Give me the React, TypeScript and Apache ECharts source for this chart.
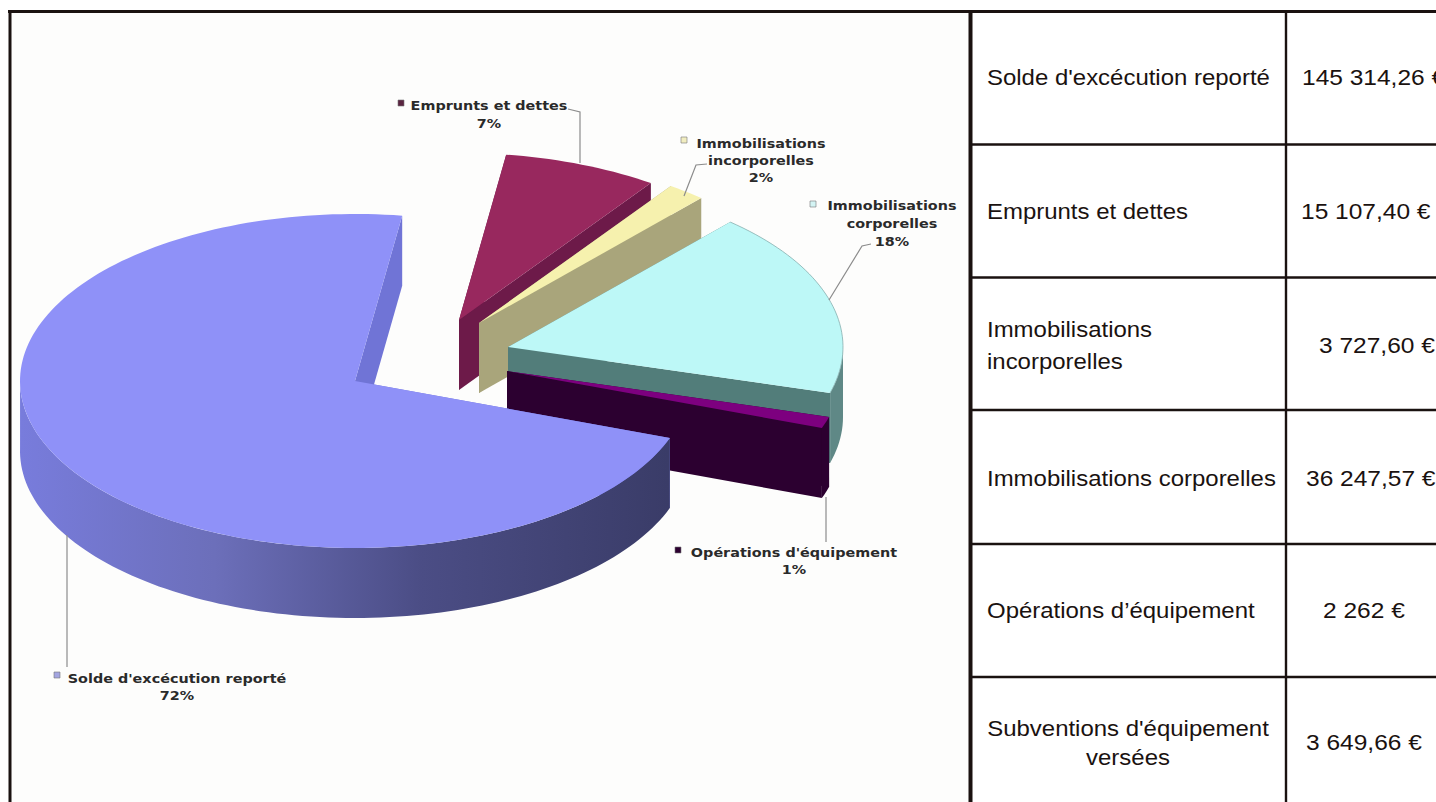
import React, { useEffect, useRef } from "react";
import * as echarts from "echarts";

const pieCategories = ["Solde d'excécution reporté", "Emprunts et dettes", "Immobilisations incorporelles", "Immobilisations corporelles", "Opérations d'équipement"];
const pieValues = [145314.26, 15107.4, 3727.6, 36247.57, 2262];
const tableLabels = [["Solde d'excécution reporté"], ["Emprunts et dettes"], ["Immobilisations", "incorporelles"], ["Immobilisations corporelles"], ["Opérations d’équipement"], ["Subventions d'équipement", "versées"]];
const tableValues = ["145 314,26 €", "15 107,40 €", "3 727,60 €", "36 247,57 €", "2 262 €", "3 649,66 €"];

const W = 1436, H = 802;
const RX = 335, RY = 167, DEPTH = 70, START = 81.9;
const paintOrder = [1, 2, 3, 4, 0];
const apex = [[355, 381], [459, 320], [479, 323], [508, 347], [507, 371]];
const topColor = ["#8f91f8", "#98285e", "#f6f1ae", "#bdf8f7", "#7d007f"];
const cutColor = ["#7074d6", "#6d1a49", "#a9a57b", "#527d7a", "#2c0030"];
const wallColor = ["#5a5da0", "#6d1a49", "#a9a57b", "#5f8886", "#2c0030"];
const keyColor = ["#a3a5e0", "#5a2440", "#f1edc0", "#d4f4f4", "#2c0030"];
const labelLines = [["Solde d'excécution reporté", "72%"], ["Emprunts et dettes", "7%"], ["Immobilisations", "incorporelles", "2%"], ["Immobilisations", "corporelles", "18%"], ["Opérations d'équipement", "1%"]];
const labelAt = [[177, 678, 17], [489, 105, 18], [761, 143, 17], [892, 205, 18], [794, 552, 17]];
const keyAt = [[57, 675], [401, 103], [684, 140], [813, 204], [678, 550]];
const leaders = [
  [[67, 535], [67, 667]],
  [[568, 109], [580, 112], [580, 163]],
  [[707, 164], [696, 165], [684, 196]],
  [[871, 244], [862, 246], [829, 300]],
  [[826, 497], [826, 542]],
];
const rowLines = [11, 144.5, 277.5, 410, 544, 677];
const rowTextY = [[77], [211], [329, 361], [478], [610], [728, 757]];
const rowTextX = [987, 987, 987, 987, 987, 1128];
const valueX = [1302, 1301, 1319, 1306, 1323, 1306];
const valueY = [77, 211, 345, 478, 610, 742];

const total = pieValues.reduce((a, b) => a + b, 0);
function sliceAngles(i: number) {
  let a = START;
  for (let k = 1; k <= 4; k++) {
    const span = (pieValues[k] / total) * 360;
    if (k === i) return [a, a - span];
    a -= span;
  }
  return [a, a - (pieValues[0] / total) * 360];
}
function arc(cx: number, cy: number, a0: number, a1: number, dy = 0) {
  const pts: number[][] = [];
  const n = Math.max(2, Math.ceil(Math.abs(a0 - a1) / 1.5));
  for (let k = 0; k <= n; k++) {
    const t = ((a0 + ((a1 - a0) * k) / n) * Math.PI) / 180;
    pts.push([cx + RX * Math.cos(t), cy - RY * Math.sin(t) + dy]);
  }
  return pts;
}
const poly = (points: number[][], fill: any, z2: number) => ({ type: "polygon", z2, shape: { points }, style: { fill, stroke: "none" }, silent: true });

function renderSlice(params: any) {
  const i = paintOrder[params.dataIndex];
  const [cx, cy] = apex[i];
  const [a0, a1] = sliceAngles(i);
  const base = params.dataIndex * 10;
  const kids: any[] = [];
  const p0 = arc(cx, cy, a0, a0)[0];
  const p1 = arc(cx, cy, a1, a1)[0];
  kids.push(poly([[cx, cy], p0, [p0[0], p0[1] + DEPTH], [cx, cy + DEPTH]], cutColor[i], base + 1));
  kids.push(poly([[cx, cy], p1, [p1[0], p1[1] + DEPTH], [cx, cy + DEPTH]], cutColor[i], base + 2));
  const front = [] as number[];
  for (let t = Math.floor(a0); t >= a1; t -= 1) {
    if (Math.sin((t * Math.PI) / 180) <= 0.001) front.push(t);
  }
  if (front.length) {
    const w0 = front[0];
    const w1 = Math.max(a1, front[front.length - 1] - 1);
    const topEdge = arc(cx, cy, w0, w1);
    const botEdge = arc(cx, cy, w1, w0, DEPTH);
    const fill = i === 0
      ? new (echarts as any).graphic.LinearGradient(20, 0, 668, 0, [
          { offset: 0, color: "#787cdc" },
          { offset: 0.3, color: "#6c6fba" },
          { offset: 0.62, color: "#4b4d85" },
          { offset: 1, color: "#3a3c68" },
        ], true)
      : wallColor[i];
    kids.push(poly(topEdge.concat(botEdge), fill, base + 3));
  }
  kids.push(poly([[cx, cy]].concat(arc(cx, cy, a0, a1)), topColor[i], base + 5));
  if (i === 3) {
    kids.push({ type: "polyline", z2: base + 6, shape: { points: arc(cx, cy, a0, a1) }, style: { stroke: "#86aeae", lineWidth: 0.8, fill: "none" }, silent: true });
  }
  kids.push({ type: "polyline", z2: 100, shape: { points: leaders[i] }, style: { stroke: "#8c8c8c", lineWidth: 1.2, fill: "none" }, silent: true });
  const [kx, ky] = keyAt[i];
  kids.push({ type: "rect", z2: 100, shape: { x: kx - 3, y: ky - 3, width: 6, height: 6 }, style: { fill: keyColor[i], stroke: "#777", lineWidth: 0.6 }, silent: true });
  const [lx, ly, lh] = labelAt[i];
  labelLines[i].forEach((line, k) => {
    kids.push({
      type: "text", z2: 101, x: lx, y: ly + k * lh, scaleX: 1.15, silent: true,
      style: { text: k === labelLines[i].length - 1 ? `${Math.round((pieValues[i] / total) * 100)}%` : line, fill: "#2a2a2a", font: 'bold 12.5px "DejaVu Sans"', textAlign: "center", textVerticalAlign: "middle" },
    });
  });
  return { type: "group", children: kids };
}

function tableGraphics() {
  const els: any[] = [];
  const ink = "#1a1210";
  const hline = (y: number, x0: number, x1: number, w: number) => ({ type: "rect", shape: { x: x0, y: y - w / 2, width: x1 - x0, height: w }, style: { fill: ink }, silent: true });
  const vline = (x: number, y0: number, y1: number, w: number) => ({ type: "rect", shape: { x: x - w / 2, y: y0, width: w, height: y1 - y0 }, style: { fill: ink }, silent: true });
  els.push({ type: "rect", shape: { x: 11, y: 12, width: 958, height: H - 12 }, style: { fill: "#fdfdfc" }, silent: true, z: -10 });
  els.push(hline(11.5, 8, W, 3));
  els.push(vline(10, 11, H, 3));
  els.push(vline(970.5, 11, H, 4));
  els.push(vline(1286, 11, H, 2.4));
  rowLines.slice(1).forEach((y) => els.push(hline(y, 972, W, 2.4)));
  tableLabels.forEach((lines, r) => {
    lines.forEach((t, k) => {
      els.push({ type: "text", x: rowTextX[r], y: rowTextY[r][k], scaleX: 1.065, silent: true, style: { text: t, fill: ink, font: '22.5px "Liberation Sans"', textAlign: r === 5 ? "center" : "left", textVerticalAlign: "middle" } });
    });
  });
  tableValues.forEach((t, r) => {
    els.push({ type: "text", x: valueX[r], y: valueY[r], scaleX: 1.09, silent: true, style: { text: t, fill: ink, font: '22.5px "Liberation Sans"', textAlign: "left", textVerticalAlign: "middle" } });
  });
  return els;
}

export default function App() {
  const ref = useRef<HTMLDivElement>(null);
  useEffect(() => {
    const chart = echarts.init(ref.current!, undefined, { renderer: "svg" });
    chart.setOption({
      animation: false,
      backgroundColor: "#ffffff",
      graphic: { elements: tableGraphics() },
      series: [{ type: "custom", coordinateSystem: "none", clip: false, silent: true, z: 5, data: paintOrder.map((i) => pieValues[i]), renderItem: renderSlice }],
    });
    return () => chart.dispose();
  }, []);
  return <div ref={ref} style={{ position: "fixed", left: 0, top: 0, width: W, height: H }} />;
}
